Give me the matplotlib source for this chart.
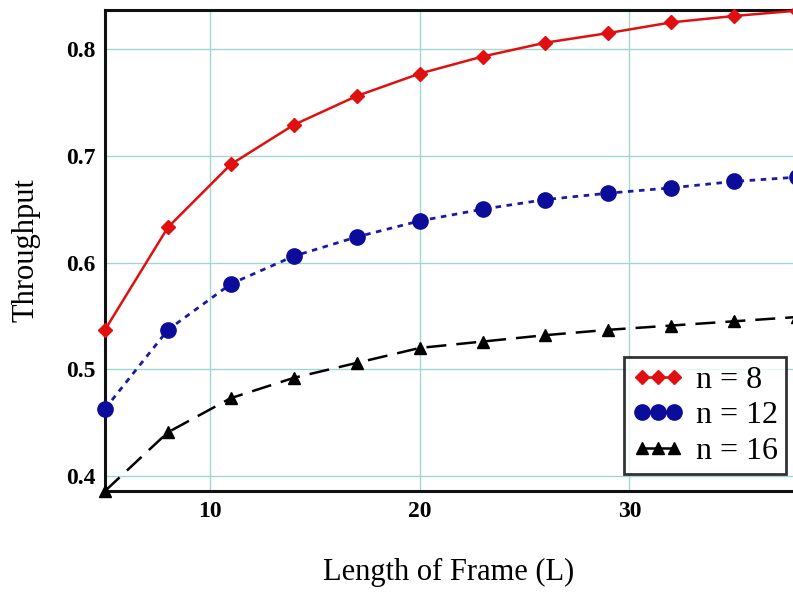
import matplotlib.pyplot as plt

# frame length L
frame_len = [5, 8, 11, 14, 17, 20, 23, 26, 29, 32, 35, 38]

# throughput per number of nodes
thr_n8 = [0.537, 0.633, 0.692, 0.729, 0.756, 0.777, 0.793, 0.806, 0.815, 0.825, 0.831, 0.836]
thr_n12 = [0.463, 0.537, 0.580, 0.606, 0.624, 0.639, 0.650, 0.659, 0.665, 0.670, 0.676, 0.680]
thr_n16 = [0.386, 0.441, 0.473, 0.492, 0.506, 0.520, 0.526, 0.532, 0.537, 0.541, 0.545, 0.549]

xticks = [10, 20, 30]
yticks = [0.4, 0.5, 0.6, 0.7, 0.8]

plt.rcParams['font.family'] = ['Liberation Serif', 'DejaVu Serif']

fig = plt.figure(figsize=(7.93, 5.94), dpi=100)
ax = fig.add_axes([0.1324, 0.1734, 0.8676, 0.8096])

ax.plot(frame_len, thr_n8, color='#e01010', lw=1.8, ls='-', marker='D', ms=7,
        label='n = 8', clip_on=False, zorder=3)
ax.plot(frame_len, thr_n12, color='#1a1aa8', lw=2.0, ls=(0, (2, 2)), marker='o', ms=11,
        mfc='#0c0c9a', mec='#0c0c9a', label='n = 12', clip_on=False, zorder=3)
ax.plot(frame_len, thr_n16, color='black', lw=1.8, ls=(0, (8, 4)), marker='^', ms=9,
        label='n = 16', clip_on=False, zorder=3)

ax.set_xlim(5, 37.8)
ax.set_ylim(0.386, 0.8365)
ax.set_xticks(xticks)
ax.set_yticks(yticks)
ax.set_xticklabels([str(t) for t in xticks], fontsize=17, fontweight='bold')
ax.set_yticklabels([str(t) for t in yticks], fontsize=17, fontweight='bold')
ax.tick_params(length=0, pad=7)

ax.grid(True, color='#9fd8d2', lw=1.0)
ax.set_axisbelow(True)

for side in ['left', 'bottom', 'top']:
    ax.spines[side].set_linewidth(2.2)
    ax.spines[side].set_color('#111111')
ax.spines['right'].set_visible(False)

ax.set_xlabel('Length of Frame (L)', fontsize=22, labelpad=26)
ax.set_ylabel('Throughput', fontsize=22, labelpad=18)

leg = ax.legend(loc='lower right', bbox_to_anchor=(0.99, 0.035), numpoints=3,
                fontsize=23, frameon=True, fancybox=False, handlelength=1.6,
                handletextpad=0.4, borderpad=0.25, labelspacing=0.2, borderaxespad=0)
leg.get_frame().set_edgecolor('black')
leg.get_frame().set_linewidth(2.0)
for line in leg.get_lines():
    line.set_linestyle('-')

fig.savefig('out.png', dpi=100)
